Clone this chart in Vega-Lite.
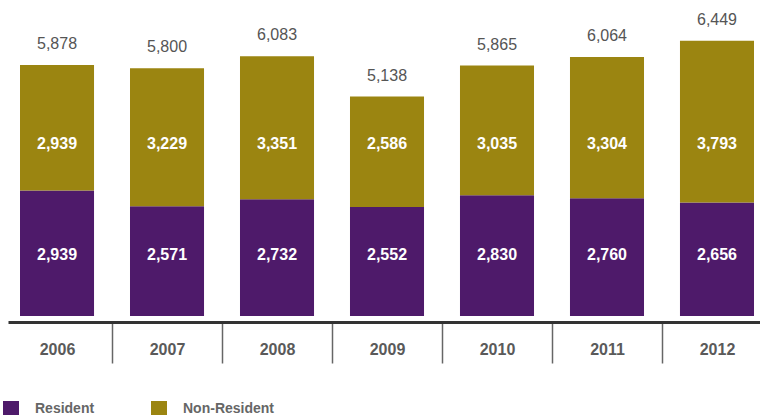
{
  "$schema": "https://vega.github.io/schema/vega-lite/v6.json",
  "width": 752,
  "height": 310,
  "autosize": {"type": "none"},
  "padding": {"left": 8, "top": 6, "right": 0, "bottom": 99},
  "background": "white",
  "config": {
    "view": {"stroke": null},
    "font": "Liberation Sans"
  },
  "data": {
    "values": [
      {"year": "2006", "series": "Resident", "value": 2939},
      {"year": "2006", "series": "Non-Resident", "value": 2939},
      {"year": "2007", "series": "Resident", "value": 2571},
      {"year": "2007", "series": "Non-Resident", "value": 3229},
      {"year": "2008", "series": "Resident", "value": 2732},
      {"year": "2008", "series": "Non-Resident", "value": 3351},
      {"year": "2009", "series": "Resident", "value": 2552},
      {"year": "2009", "series": "Non-Resident", "value": 2586},
      {"year": "2010", "series": "Resident", "value": 2830},
      {"year": "2010", "series": "Non-Resident", "value": 3035},
      {"year": "2011", "series": "Resident", "value": 2760},
      {"year": "2011", "series": "Non-Resident", "value": 3304},
      {"year": "2012", "series": "Resident", "value": 2656},
      {"year": "2012", "series": "Non-Resident", "value": 3793}
    ]
  },
  "encoding": {
    "x": {
      "field": "year",
      "type": "ordinal",
      "scale": {"paddingInner": 0.327, "paddingOuter": 0.0818, "align": 0.667},
      "axis": {
        "title": null,
        "orient": "bottom",
        "offset": 6,
        "domainColor": "#333333",
        "domainWidth": 3,
        "tickColor": "#666666",
        "tickWidth": 1.5,
        "tickSize": 41,
        "tickOffset": 55,
        "labelOffset": -55,
        "labelFont": "Liberation Sans",
        "labelFontSize": 16,
        "labelFontWeight": "bold",
        "labelColor": "#5a5a5a",
        "labelAngle": 0,
        "labelBaseline": "middle",
        "labelPadding": -14
      }
    }
  },
  "layer": [
    {
      "mark": {"type": "bar"},
      "encoding": {
        "y": {
          "field": "value",
          "type": "quantitative",
          "stack": "zero",
          "scale": {"domain": [0, 7260], "nice": false, "zero": true},
          "axis": null
        },
        "color": {
          "field": "series",
          "type": "nominal",
          "scale": {"domain": ["Resident", "Non-Resident"], "range": ["#4e1a6a", "#9b8511"]},
          "legend": {
            "title": null,
            "orient": "none",
            "direction": "horizontal",
            "legendX": -5,
            "legendY": 395,
            "symbolType": "square",
            "symbolSize": 256,
            "symbolStrokeWidth": 0,
            "symbolOpacity": 1,
            "labelFont": "Liberation Sans",
            "labelFontSize": 14,
            "labelFontWeight": "bold",
            "labelColor": "#666666",
            "labelOffset": 16,
            "columnPadding": 56
          }
        },
        "order": {"field": "series", "sort": "descending"}
      }
    },
    {
      "transform": [{"filter": "datum.series === 'Non-Resident'"}],
      "mark": {"type": "text", "color": "white", "fontSize": 16, "fontWeight": "bold", "baseline": "middle"},
      "encoding": {
        "y": {"datum": 4028, "type": "quantitative"},
        "text": {"field": "value", "type": "quantitative", "format": ","}
      }
    },
    {
      "transform": [{"filter": "datum.series === 'Resident'"}],
      "mark": {"type": "text", "color": "white", "fontSize": 16, "fontWeight": "bold", "baseline": "middle"},
      "encoding": {
        "y": {"datum": 1429, "type": "quantitative"},
        "text": {"field": "value", "type": "quantitative", "format": ","}
      }
    },
    {
      "transform": [{"aggregate": [{"op": "sum", "field": "value", "as": "total"}], "groupby": ["year"]}],
      "mark": {"type": "text", "color": "#555555", "fontSize": 16, "baseline": "middle", "dy": -21},
      "encoding": {
        "y": {"field": "total", "type": "quantitative"},
        "text": {"field": "total", "type": "quantitative", "format": ","}
      }
    }
  ]
}
